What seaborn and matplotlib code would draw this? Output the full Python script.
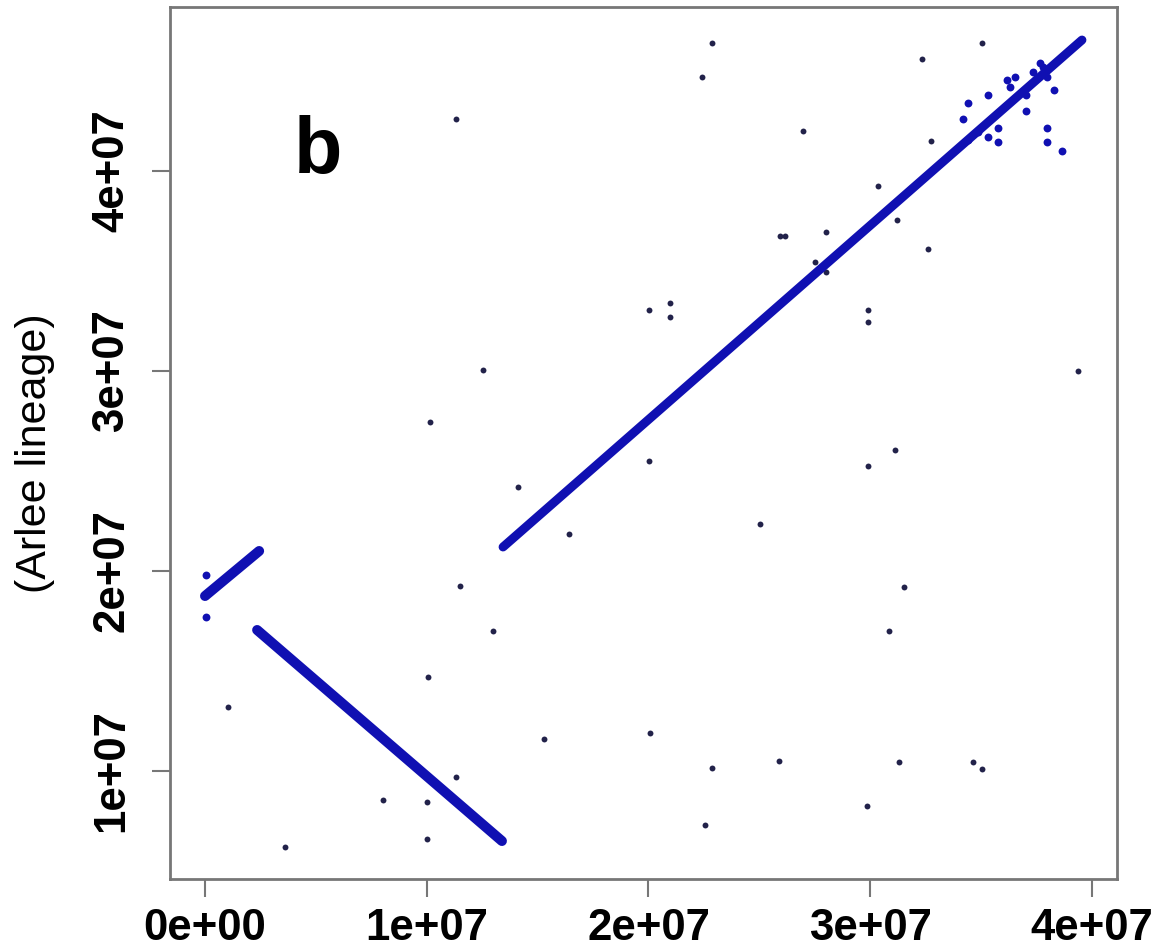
import numpy as np
import pandas as pd
from matplotlib import pyplot as plt
import seaborn as sns

# synteny segments (start / end of each dense run of hits)
seg_name = ["s1", "s1", "s2", "s2"]
seg_x = [0.0e7, 0.244e7, 0.235e7, 1.339e7]
seg_y = [1.875e7, 2.10e7, 1.705e7, 0.65e7]

main_x = [1.344e7, 3.955e7]
main_y = [2.12e7, 4.655e7]

# scattered hits near the end of the main diagonal
near_x = [3.442e7, 3.42e7, 3.532e7, 3.578e7, 3.578e7, 3.532e7, 3.442e7, 3.487e7,
          3.702e7, 3.702e7, 3.653e7, 3.615e7, 3.63e7, 3.735e7, 3.765e7, 3.829e7,
          3.796e7, 3.796e7, 3.863e7, 3.796e7, 3.78e7, 0.005e7, 0.005e7]
near_y = [4.338e7, 4.258e7, 4.38e7, 4.213e7, 4.147e7, 4.17e7, 4.155e7, 4.197e7,
          4.38e7, 4.30e7, 4.47e7, 4.455e7, 4.42e7, 4.497e7, 4.538e7, 4.405e7,
          4.213e7, 4.147e7, 4.10e7, 4.47e7, 4.52e7, 1.98e7, 1.77e7]

# isolated hits
pt_x = [3.232e7, 3.505e7, 3.272e7, 2.286e7, 2.241e7, 1.132e7, 2.697e7, 3.035e7,
        3.12e7, 2.595e7, 2.615e7, 2.80e7, 2.75e7, 2.80e7, 3.26e7, 2.002e7,
        2.097e7, 2.097e7, 2.99e7, 2.99e7, 1.254e7, 1.411e7, 1.641e7, 2.002e7,
        3.937e7, 1.015e7, 2.99e7, 3.11e7, 2.503e7, 1.15e7, 1.30e7, 1.006e7,
        0.104e7, 1.529e7, 1.132e7, 0.803e7, 1.001e7, 1.001e7, 0.361e7, 3.152e7,
        3.085e7, 3.13e7, 3.463e7, 3.504e7, 2.007e7, 2.286e7, 2.588e7, 2.255e7,
        2.985e7]
pt_y = [4.56e7, 4.64e7, 4.148e7, 4.64e7, 4.47e7, 4.26e7, 4.20e7, 3.925e7,
        3.755e7, 3.675e7, 3.675e7, 3.695e7, 3.545e7, 3.495e7, 3.61e7, 3.305e7,
        3.34e7, 3.27e7, 3.305e7, 3.245e7, 3.005e7, 2.42e7, 2.185e7, 2.55e7,
        3.0e7, 2.745e7, 2.525e7, 2.605e7, 2.235e7, 1.925e7, 1.70e7, 1.47e7,
        1.32e7, 1.16e7, 0.97e7, 0.855e7, 0.845e7, 0.66e7, 0.62e7, 1.92e7,
        1.70e7, 1.045e7, 1.045e7, 1.01e7, 1.19e7, 1.015e7, 1.05e7, 0.73e7,
        0.825e7]

x_ticks = [0, 1e7, 2e7, 3e7, 4e7]
x_labels = ["0e+00", "1e+07", "2e+07", "3e+07", "4e+07"]
y_ticks = [1e7, 2e7, 3e7, 4e7]
y_labels = ["1e+07", "2e+07", "3e+07", "4e+07"]

sns.set_style("white")
plt.rcParams["font.family"] = ["Liberation Sans", "DejaVu Sans"]
plt.rcParams["text.color"] = "black"
plt.rcParams["xtick.labelcolor"] = "black"
plt.rcParams["ytick.labelcolor"] = "black"

segs = pd.DataFrame({"seg": seg_name, "x": seg_x, "y": seg_y})
main = pd.DataFrame({"x": main_x, "y": main_y})
near = pd.DataFrame({"x": near_x, "y": near_y})
pts = pd.DataFrame({"x": pt_x, "y": pt_y})

fig = plt.figure(figsize=(11.58, 9.47), dpi=100)
ax = fig.add_axes([0.1468, 0.0718, 0.8178, 0.9208])

blue = "#1010b2"
sns.lineplot(data=segs, x="x", y="y", units="seg", estimator=None, sort=False,
             color=blue, linewidth=7.2, solid_capstyle="round", ax=ax)
sns.lineplot(data=main, x="x", y="y", estimator=None, sort=False,
             color=blue, linewidth=6.4, solid_capstyle="round", ax=ax)
sns.scatterplot(data=near, x="x", y="y", color=blue, s=32, linewidth=0, ax=ax)
sns.scatterplot(data=pts, x="x", y="y", color="#22224a", s=18, linewidth=0, ax=ax)

ax.set_xlim(-1.58e6, 4.113e7)
ax.set_ylim(4.6e6, 4.82e7)
ax.set_xticks(x_ticks)
ax.set_xticklabels(x_labels, fontsize=31.5, fontweight="bold")
ax.set_yticks(y_ticks)
ax.set_yticklabels(y_labels, fontsize=31.5, fontweight="bold", rotation=90, va="center")
ax.tick_params(axis="both", direction="out", length=13, width=1.5, color="#777777",
               left=True, bottom=True)
ax.tick_params(axis="x", pad=8)
ax.tick_params(axis="y", pad=14)
ax.set_xlabel("")
ax.set_ylabel("")
for sp in ax.spines.values():
    sp.set_color("#777777")
    sp.set_linewidth(2)

ax.text(0.51e7, 3.99e7, "b", fontsize=57, fontweight="bold", color="black",
        ha="center", va="baseline")
fig.text(35 / 1158, 1 - 453 / 947, "(Arlee lineage)", fontsize=31, rotation=90,
         color="black", ha="center", va="center")

plt.savefig("out.png", dpi=100)
